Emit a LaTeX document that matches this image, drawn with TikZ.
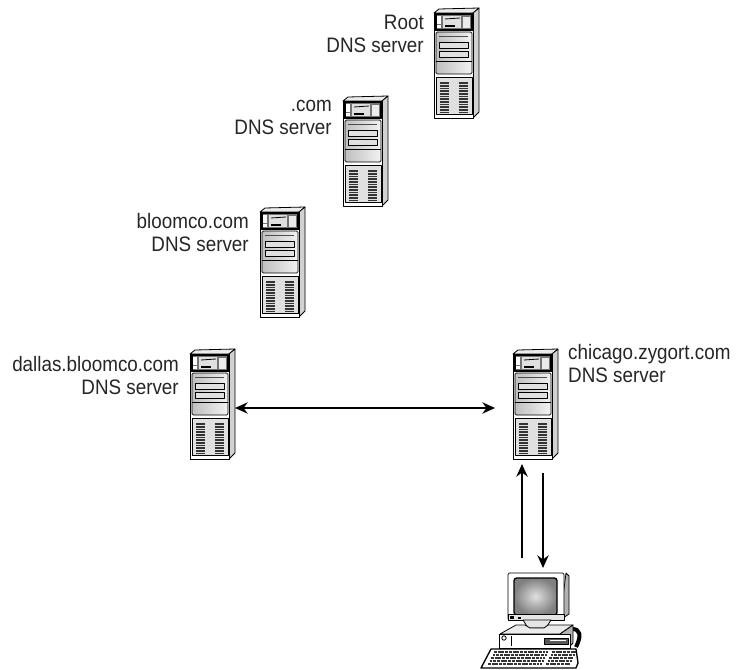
\documentclass[tikz,border=0pt]{standalone}
\usepackage{fontspec}
\setmainfont{Liberation Sans}
\usetikzlibrary{arrows.meta,calc}
\tikzset{
  x=0.75pt,y=-0.75pt,
  lbl/.style={font=\fontsize{15.7pt}{17.25pt}\selectfont,inner sep=0pt,xscale=0.9,black!85},
  hook/.style={minimum width=33.75pt,minimum height=81pt,inner sep=0pt,outer sep=0pt,anchor=north west},
  link/.style={line width=1.25pt,-{Stealth[length=9.5pt,width=8.5pt]}},
  dlink/.style={line width=1.25pt,{Stealth[length=9.5pt,width=8.5pt]}-{Stealth[length=9.5pt,width=8.5pt]}},
  ol/.style={draw=black,line width=0.6pt,line join=round},
  server/.pic={
    \filldraw[ol,fill=black!8] (0,0)--(5,-4)--(45,-5)--(39,0)--cycle;
    \filldraw[ol,fill=black!18] (39,0)--(45,-5)--(45,99)--(39,105)--cycle;
    \filldraw[ol,fill=white] (0,0) rectangle (39,105);
    \filldraw[draw=black,line width=0.9pt,fill=black!55] (2,1.5) rectangle (38,17);
    \fill[white] (3,3) rectangle (7,11);
    \fill[black!12] (9,3) rectangle (27,15);
    \fill[black!8] (29,4) rectangle (36,15);
    \draw[line width=0.6pt] (11,6) -- (26,5);
    \fill[black] (11,12) rectangle (21,14);
    \fill[white] (3,12) rectangle (7,15);
    \shade[ol,rounded corners=1pt,left color=black!25,right color=black!5] (2,19) rectangle (38,61);
    \draw[line width=0.7pt,black!70] (5,23) -- (34,23);
    \filldraw[ol,fill=black!12] (5,29) rectangle (34.5,35);
    \filldraw[ol,fill=black!12] (5,38) rectangle (34.5,44);
    \draw[line width=0.5pt] (2,48) -- (38,48);
    \filldraw[ol,fill=black!12] (2,64) rectangle (38,101);
    \foreach \yy in {69,70.6,...,99.5}{
      \draw[line width=0.6pt,black!80] (6,\yy) -- (15,\yy);
      \draw[line width=0.6pt,black!80] (25,\yy) -- (34,\yy);
    }
  },
  computer/.pic={
    % monitor
    \filldraw[ol,fill=black!30] (58,0)--(61,3)--(61,41)--(52,47)--cycle;
    \filldraw[ol,fill=white,rounded corners=1pt] (0,0) rectangle (56,47);
    \shade[draw=black,line width=1pt,rounded corners=2pt,inner color=black!12,outer color=black!50] (6,5) rectangle (49,42);
    \filldraw[ol,fill=black!10] (0,41) rectangle (56,47);
    \fill[black] (2,43) rectangle (6,46);
    \fill[black] (10,44) rectangle (13,46);
    \filldraw[ol,fill=black!10] (15,47) -- (43,47) -- (38,55) -- (20,55) -- cycle;
    % cable
    \draw[line width=3pt] (64,56) .. controls (72,56) and (74,62) .. (68,74);
    % desktop
    \filldraw[ol,fill=black!8] (-8,61) -- (8,52) -- (17,52) -- (22,55) -- (36,55) -- (40,52) -- (65,52) -- (52,61) -- cycle;
    \filldraw[ol,fill=black!30] (52,61) -- (65,52) -- (65,70) -- (60,75) -- (52,75) -- cycle;
    \filldraw[ol,fill=white] (-9,61) rectangle (62,75);
    \filldraw[ol,fill=white] (-4,65) circle (2.2);
    \draw[line width=0.5pt] (3,63) -- (3,73);
    \filldraw[ol,fill=black!65] (36,65) rectangle (60,71);
    \fill[white] (42,66.5) rectangle (58,68);
    % keyboard
    \filldraw[ol,line width=1pt,fill=white] (-27,95) -- (-17,76) -- (68,76) -- (70,90) -- (68,95) -- cycle;
    \foreach \r/\ya/\sx in {0/79/-14,1/82/-15.5,2/85/-17,3/88/-18.5,4/91/-20}{
      \draw[line width=1.9pt,black!80,dash pattern=on 2.2pt off 0.6pt] (\sx,\ya) -- ($(\sx,\ya)+(54,0)$);
      \draw[line width=1.9pt,black!80,dash pattern=on 2.2pt off 0.6pt] ($(\sx,\ya)+(58,0)$) -- ($(\sx,\ya)+(82,0)$);
    }
  }
}
\begin{document}
\begin{tikzpicture}
\useasboundingbox (0,0) rectangle (739,670);
\fill[white] (0,0) rectangle (739,670);
\pic at (434,13) {server};
\pic at (343,101) {server};
\pic at (260,212) {server};
\pic at (190,354) {server};
\pic at (513,354) {server};
\pic at (508,573) {computer};
\node[hook] (root) at (434,13) {};
\node[hook] (com) at (343,101) {};
\node[hook] (bloom) at (260,212) {};
\node[hook] (dallas) at (190,354) {};
\node[hook] (chicago) at (513,354) {};
\node[minimum width=51pt,minimum height=72pt,inner sep=0pt,outer sep=0pt,anchor=north west] (pc) at (480,573) {};
\coordinate (upfoot) at (522,558);
\coordinate (downtop) at (543,473);
\node[lbl,anchor=north east,align=right] (t1) at (424,15) {Root\\DNS server};
\node[lbl,anchor=north east,align=right] (t2) at (332,100) {.com\\DNS server};
\node[lbl,anchor=north east,align=right] (t3) at (249,213) {bloomco.com\\DNS server};
\node[lbl,anchor=north east,align=right] (t4) at (179,356) {dallas.bloomco.com\\DNS server};
\node[lbl,anchor=north west,align=left] (t5) at (568,344) {chicago.zygort.com\\DNS server};
\draw[dlink,shorten >=13.5pt] (dallas.east) -- (chicago.west);
\draw[link] (upfoot) -- ($(upfoot |- chicago.south)+(0,2)$);
\draw[link] (downtop) -- ($(downtop |- pc.north)+(0,-5)$);
\end{tikzpicture}
\end{document}
